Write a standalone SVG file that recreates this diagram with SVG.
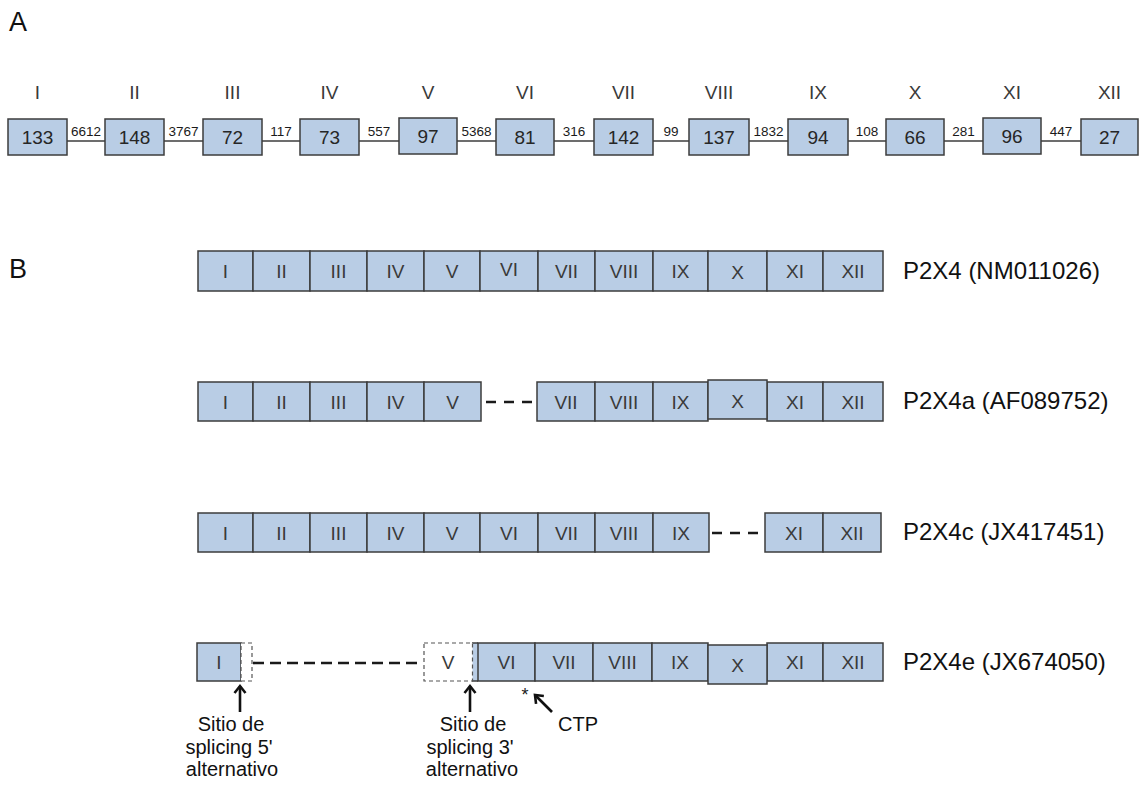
<svg xmlns="http://www.w3.org/2000/svg" width="1140" height="785" viewBox="0 0 1140 785">
<defs>
<style>
text{font-family:"Liberation Sans",Arial,sans-serif;fill:#1a1a1a}
.ex{fill:#b9cde5;stroke:#3c3c3c;stroke-width:1.5}
.dbox{fill:#ffffff;stroke:#555;stroke-width:1.2;stroke-dasharray:4 3}
.ln{stroke:#3c3c3c;stroke-width:1.5;fill:none}
.gap{stroke:#1a1a1a;stroke-width:2.6;fill:none}
.arr{stroke:#111;stroke-width:2.6;fill:none}
.rom{font-size:19px;text-anchor:middle;fill:#3a3a3a}
.num{font-size:19px;text-anchor:middle;fill:#262626}
.intr{font-size:13.5px;text-anchor:middle;fill:#1a1a1a}
.cell{font-size:19px;text-anchor:middle;fill:#3a3a3a}
.lab{font-size:24px;fill:#111}
.pan{font-size:27px;fill:#111}
.note{font-size:20px;text-anchor:middle;fill:#111}
</style>
<marker id="ah" markerWidth="14" markerHeight="14" refX="10" refY="7" orient="auto" markerUnits="userSpaceOnUse" viewBox="0 0 14 14">
<path d="M3,1.5 L10,7 L3,12.5" fill="none" stroke="#111" stroke-width="2.6"/>
</marker>
</defs>
<rect width="1140" height="785" fill="#ffffff"/>
<text class="pan" x="9" y="31">A</text>
<text class="pan" x="9" y="278">B</text>

<!-- Panel A connectors -->
<g id="connectorsA">
<line class="ln" x1="67" y1="141" x2="105" y2="141"/>
<line class="ln" x1="164" y1="141" x2="203" y2="141"/>
<line class="ln" x1="262" y1="141" x2="300" y2="141"/>
<line class="ln" x1="359" y1="141" x2="399" y2="141"/>
<line class="ln" x1="457" y1="141" x2="496" y2="141"/>
<line class="ln" x1="554" y1="141" x2="594" y2="141"/>
<line class="ln" x1="653" y1="141" x2="689" y2="141"/>
<line class="ln" x1="749" y1="141" x2="788" y2="141"/>
<line class="ln" x1="848" y1="141" x2="886" y2="141"/>
<line class="ln" x1="944" y1="141" x2="983" y2="141"/>
<line class="ln" x1="1041" y1="141" x2="1081" y2="141"/>
<text class="intr" x="86" y="136">6612</text>
<text class="intr" x="183.5" y="136">3767</text>
<text class="intr" x="281" y="136">117</text>
<text class="intr" x="379" y="136">557</text>
<text class="intr" x="476.5" y="136">5368</text>
<text class="intr" x="574" y="136">316</text>
<text class="intr" x="671" y="136">99</text>
<text class="intr" x="768.5" y="136">1832</text>
<text class="intr" x="867" y="136">108</text>
<text class="intr" x="963.5" y="136">281</text>
<text class="intr" x="1061" y="136">447</text>
</g>

<!-- Panel A exons -->
<g id="a1"><text class="rom" x="37.5" y="99">I</text><rect class="ex" x="8" y="119" width="59" height="36"/><text class="num" x="37.5" y="144">133</text></g>
<g id="a2"><text class="rom" x="134.5" y="99">II</text><rect class="ex" x="105" y="119" width="59" height="36"/><text class="num" x="134.5" y="144">148</text></g>
<g id="a3"><text class="rom" x="232.5" y="99">III</text><rect class="ex" x="203" y="119" width="59" height="36"/><text class="num" x="232.5" y="144">72</text></g>
<g id="a4"><text class="rom" x="329.5" y="99">IV</text><rect class="ex" x="300" y="119" width="59" height="36"/><text class="num" x="329.5" y="144">73</text></g>
<g id="a5"><text class="rom" x="428" y="99">V</text><rect class="ex" x="399" y="118" width="58" height="36"/><text class="num" x="428" y="143">97</text></g>
<g id="a6"><text class="rom" x="525" y="99">VI</text><rect class="ex" x="496" y="119" width="58" height="36"/><text class="num" x="525" y="144">81</text></g>
<g id="a7"><text class="rom" x="623.5" y="99">VII</text><rect class="ex" x="594" y="119" width="59" height="36"/><text class="num" x="623.5" y="144">142</text></g>
<g id="a8"><text class="rom" x="719" y="99">VIII</text><rect class="ex" x="689" y="119" width="60" height="36"/><text class="num" x="719" y="144">137</text></g>
<g id="a9"><text class="rom" x="818" y="99">IX</text><rect class="ex" x="788" y="119" width="60" height="36"/><text class="num" x="818" y="144">94</text></g>
<g id="a10"><text class="rom" x="915" y="99">X</text><rect class="ex" x="886" y="119" width="58" height="36"/><text class="num" x="915" y="144">66</text></g>
<g id="a11"><text class="rom" x="1012" y="99">XI</text><rect class="ex" x="983" y="118" width="58" height="36"/><text class="num" x="1012" y="143">96</text></g>
<g id="a12"><text class="rom" x="1109.5" y="99">XII</text><rect class="ex" x="1081" y="119" width="57" height="36"/><text class="num" x="1109.5" y="144">27</text></g>

<!-- Panel B row 1 -->
<g id="p2x4">
<rect class="ex" x="198" y="251" width="55" height="40"/><text class="cell" x="225.5" y="278">I</text>
<rect class="ex" x="253" y="251" width="57" height="40"/><text class="cell" x="281.5" y="278">II</text>
<rect class="ex" x="310" y="251" width="57" height="40"/><text class="cell" x="338.5" y="278">III</text>
<rect class="ex" x="367" y="251" width="57" height="40"/><text class="cell" x="395.5" y="278">IV</text>
<rect class="ex" x="424" y="251" width="56" height="40"/><text class="cell" x="452" y="278">V</text>
<rect class="ex" x="480" y="251" width="58" height="40"/><text class="cell" x="509" y="276">VI</text>
<rect class="ex" x="538" y="251" width="57" height="40"/><text class="cell" x="566.5" y="278">VII</text>
<rect class="ex" x="595" y="251" width="58" height="40"/><text class="cell" x="624" y="278">VIII</text>
<rect class="ex" x="653" y="251" width="55" height="40"/><text class="cell" x="680.5" y="278">IX</text>
<rect class="ex" x="708" y="251" width="59" height="40"/><text class="cell" x="737.5" y="279">X</text>
<rect class="ex" x="767" y="251" width="56" height="40"/><text class="cell" x="795" y="278">XI</text>
<rect class="ex" x="823" y="251" width="60" height="40"/><text class="cell" x="853" y="278">XII</text>
<text class="lab" x="903" y="279">P2X4 (NM011026)</text>
</g>

<!-- Panel B row 2 -->
<g id="p2x4a">
<rect class="ex" x="198" y="382" width="55" height="39"/><text class="cell" x="225.5" y="408.5">I</text>
<rect class="ex" x="253" y="382" width="57" height="39"/><text class="cell" x="281.5" y="408.5">II</text>
<rect class="ex" x="310" y="382" width="57" height="39"/><text class="cell" x="338.5" y="408.5">III</text>
<rect class="ex" x="367" y="382" width="57" height="39"/><text class="cell" x="395.5" y="408.5">IV</text>
<rect class="ex" x="424" y="382" width="57" height="39"/><text class="cell" x="452.5" y="408.5">V</text>
<rect class="ex" x="537" y="382" width="58" height="39"/><text class="cell" x="566" y="408.5">VII</text>
<rect class="ex" x="595" y="382" width="58" height="39"/><text class="cell" x="624" y="408.5">VIII</text>
<rect class="ex" x="653" y="382" width="55" height="39"/><text class="cell" x="680.5" y="408.5">IX</text>
<rect class="ex" x="767" y="382" width="56" height="39"/><text class="cell" x="795" y="408.5">XI</text>
<rect class="ex" x="823" y="382" width="60" height="39"/><text class="cell" x="853" y="408.5">XII</text>
<rect class="ex" x="708" y="380" width="59" height="39"/><text class="cell" x="737.5" y="408">X</text>
<text class="lab" x="903" y="409">P2X4a (AF089752)</text>
</g>

<!-- Panel B row 3 -->
<g id="p2x4c">
<rect class="ex" x="198" y="513" width="55" height="39"/><text class="cell" x="225.5" y="539.5">I</text>
<rect class="ex" x="253" y="513" width="57" height="39"/><text class="cell" x="281.5" y="539.5">II</text>
<rect class="ex" x="310" y="513" width="57" height="39"/><text class="cell" x="338.5" y="539.5">III</text>
<rect class="ex" x="367" y="513" width="57" height="39"/><text class="cell" x="395.5" y="539.5">IV</text>
<rect class="ex" x="424" y="513" width="56" height="39"/><text class="cell" x="452" y="539.5">V</text>
<rect class="ex" x="480" y="513" width="58" height="39"/><text class="cell" x="509" y="539.5">VI</text>
<rect class="ex" x="538" y="513" width="57" height="39"/><text class="cell" x="566.5" y="539.5">VII</text>
<rect class="ex" x="595" y="513" width="58" height="39"/><text class="cell" x="624" y="539.5">VIII</text>
<rect class="ex" x="653" y="513" width="56" height="39"/><text class="cell" x="681" y="539.5">IX</text>
<rect class="ex" x="765" y="513" width="58" height="39"/><text class="cell" x="794" y="539.5">XI</text>
<rect class="ex" x="823" y="513" width="58" height="39"/><text class="cell" x="852" y="539.5">XII</text>
<text class="lab" x="903" y="540">P2X4c (JX417451)</text>
</g>

<!-- Panel B row 4 -->
<g id="p2x4e">
<rect class="ex" x="197" y="643" width="44" height="38"/><text class="cell" x="219" y="669">I</text>
<rect class="dbox" x="241" y="643" width="11" height="38"/>
<rect x="472" y="643" width="6" height="38" fill="#b9cde5"/>
<line class="ln" x1="472" y1="643" x2="478" y2="643"/>
<line class="ln" x1="472" y1="681" x2="478" y2="681"/>
<rect class="dbox" x="424" y="643" width="48.5" height="38"/><text class="cell" x="448" y="669">V</text>
<rect class="ex" x="478" y="643" width="57" height="38"/><text class="cell" x="506.5" y="669">VI</text>
<rect class="ex" x="535" y="643" width="58" height="38"/><text class="cell" x="564" y="669">VII</text>
<rect class="ex" x="593" y="643" width="59" height="38"/><text class="cell" x="622.5" y="669">VIII</text>
<rect class="ex" x="652" y="643" width="56" height="38"/><text class="cell" x="680" y="669">IX</text>
<rect class="ex" x="767" y="643" width="56" height="38"/><text class="cell" x="795" y="669">XI</text>
<rect class="ex" x="823" y="643" width="60" height="38"/><text class="cell" x="853" y="669">XII</text>
<rect class="ex" x="708" y="645" width="59" height="39"/><text class="cell" x="737.5" y="672">X</text>
<text class="lab" x="903" y="670">P2X4e (JX674050)</text>
</g>

<!-- Panel B connectors (skipped exons) and annotations -->
<g id="connectorsB">
<line class="gap" x1="486" y1="402" x2="532" y2="402" stroke-dasharray="10 8"/>
<line class="gap" x1="712" y1="533" x2="759" y2="533" stroke-dasharray="10 8"/>
<line class="gap" x1="253" y1="663" x2="423" y2="663" stroke-dasharray="11 6"/>
<line class="arr" x1="240" y1="712" x2="240" y2="686" marker-end="url(#ah)"/>
<line class="arr" x1="470" y1="712" x2="470" y2="686" marker-end="url(#ah)"/>
<line class="arr" x1="552" y1="712" x2="535" y2="695" marker-end="url(#ah)"/>
</g>

<g id="notes">
<text x="525" y="701" font-size="18" text-anchor="middle">*</text>
<text class="note" x="231" y="731">Sitio de</text>
<text class="note" x="229" y="754">splicing 5'</text>
<text class="note" x="232" y="776">alternativo</text>
<text class="note" x="473" y="731">Sitio de</text>
<text class="note" x="470" y="754">splicing 3'</text>
<text class="note" x="472" y="776">alternativo</text>
<text class="note" x="578" y="731">CTP</text>
</g>
</svg>
